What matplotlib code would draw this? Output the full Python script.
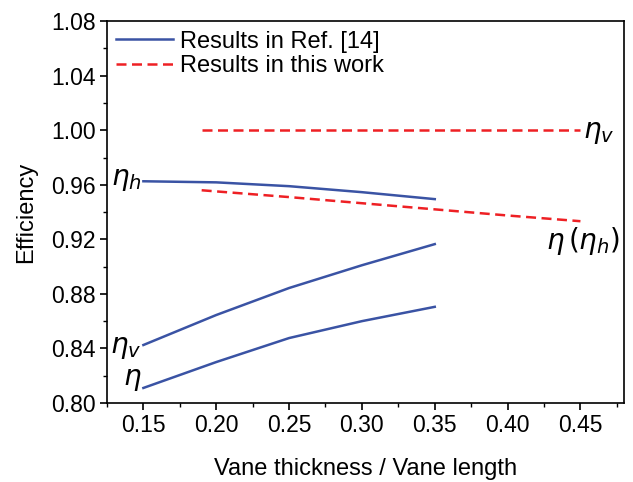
import matplotlib
matplotlib.use("Agg")
import matplotlib.pyplot as plt
from matplotlib.ticker import MultipleLocator

plt.rcParams["font.family"] = ["Liberation Sans", "DejaVu Sans"]
plt.rcParams["mathtext.fontset"] = "dejavusans"

# Ref. [14] results
x_ref = [0.15, 0.20, 0.25, 0.30, 0.35]
eta_h_ref = [0.9626, 0.9618, 0.9590, 0.9546, 0.9495]
eta_v_ref = [0.8425, 0.8645, 0.8843, 0.9010, 0.9165]
eta_ref = [0.8110, 0.8300, 0.8476, 0.8600, 0.8705]

# this work
x_work = [0.19, 0.25, 0.30, 0.35, 0.40, 0.45]
eta_v_work = [1.000, 1.000, 1.000, 1.000, 1.000, 1.000]
eta_work = [0.9560, 0.9510, 0.9465, 0.9420, 0.9375, 0.9333]

blue = "#3a53a4"
red = "#ee2024"
dash = (0, (4, 2.2))

fig = plt.figure(figsize=(6.33, 4.82), dpi=100)
ax = fig.add_axes([0.169, 0.164, 0.817, 0.792])

ax.plot(x_ref, eta_h_ref, color=blue, lw=1.8, label="Results in Ref. [14]")
ax.plot(x_ref, eta_v_ref, color=blue, lw=1.8)
ax.plot(x_ref, eta_ref, color=blue, lw=1.8)
ax.plot(x_work, eta_v_work, color=red, lw=1.8, ls=dash,
        label="Results in this work")
ax.plot(x_work, eta_work, color=red, lw=1.8, ls=dash)

lbl = dict(fontsize=20, ha="right", va="center")
ax.text(0.1485, eta_h_ref[0] + 0.001, r"$\eta_h$", **lbl)
ax.text(0.1485, eta_v_ref[0] - 0.002, r"$\eta_v$", **lbl)
ax.text(0.1485, eta_ref[0] + 0.006, r"$\eta$", **lbl)
ax.text(0.452, 0.998, r"$\eta_v$", fontsize=20, ha="left", va="center")
ax.text(0.477, 0.919, r"$\eta\,(\eta_h)$", fontsize=20, ha="right", va="center")

ax.set_xlim(0.125, 0.48)
ax.set_ylim(0.80, 1.08)
ax.xaxis.set_major_locator(MultipleLocator(0.05))
ax.xaxis.set_minor_locator(MultipleLocator(0.025))
ax.yaxis.set_major_locator(MultipleLocator(0.04))
ax.yaxis.set_minor_locator(MultipleLocator(0.02))
ax.xaxis.set_major_formatter(lambda v, p: f"{v:.2f}")
ax.yaxis.set_major_formatter(lambda v, p: f"{v:.2f}")
ax.tick_params(which="major", direction="out", length=5, width=1.2,
               labelsize=16.5, pad=3)
ax.tick_params(which="minor", direction="out", length=3, width=1.0)
for s in ax.spines.values():
    s.set_linewidth(1.2)

ax.set_xlabel("Vane thickness / Vane length", fontsize=17, labelpad=15)
ax.set_ylabel("Efficiency", fontsize=17, labelpad=10)

ax.legend(loc="upper left", frameon=False, fontsize=17, handlelength=2.4,
          handletextpad=0.3, labelspacing=0.12, borderaxespad=0.2,
          borderpad=0.2)

fig.savefig("out.png", dpi=100)
